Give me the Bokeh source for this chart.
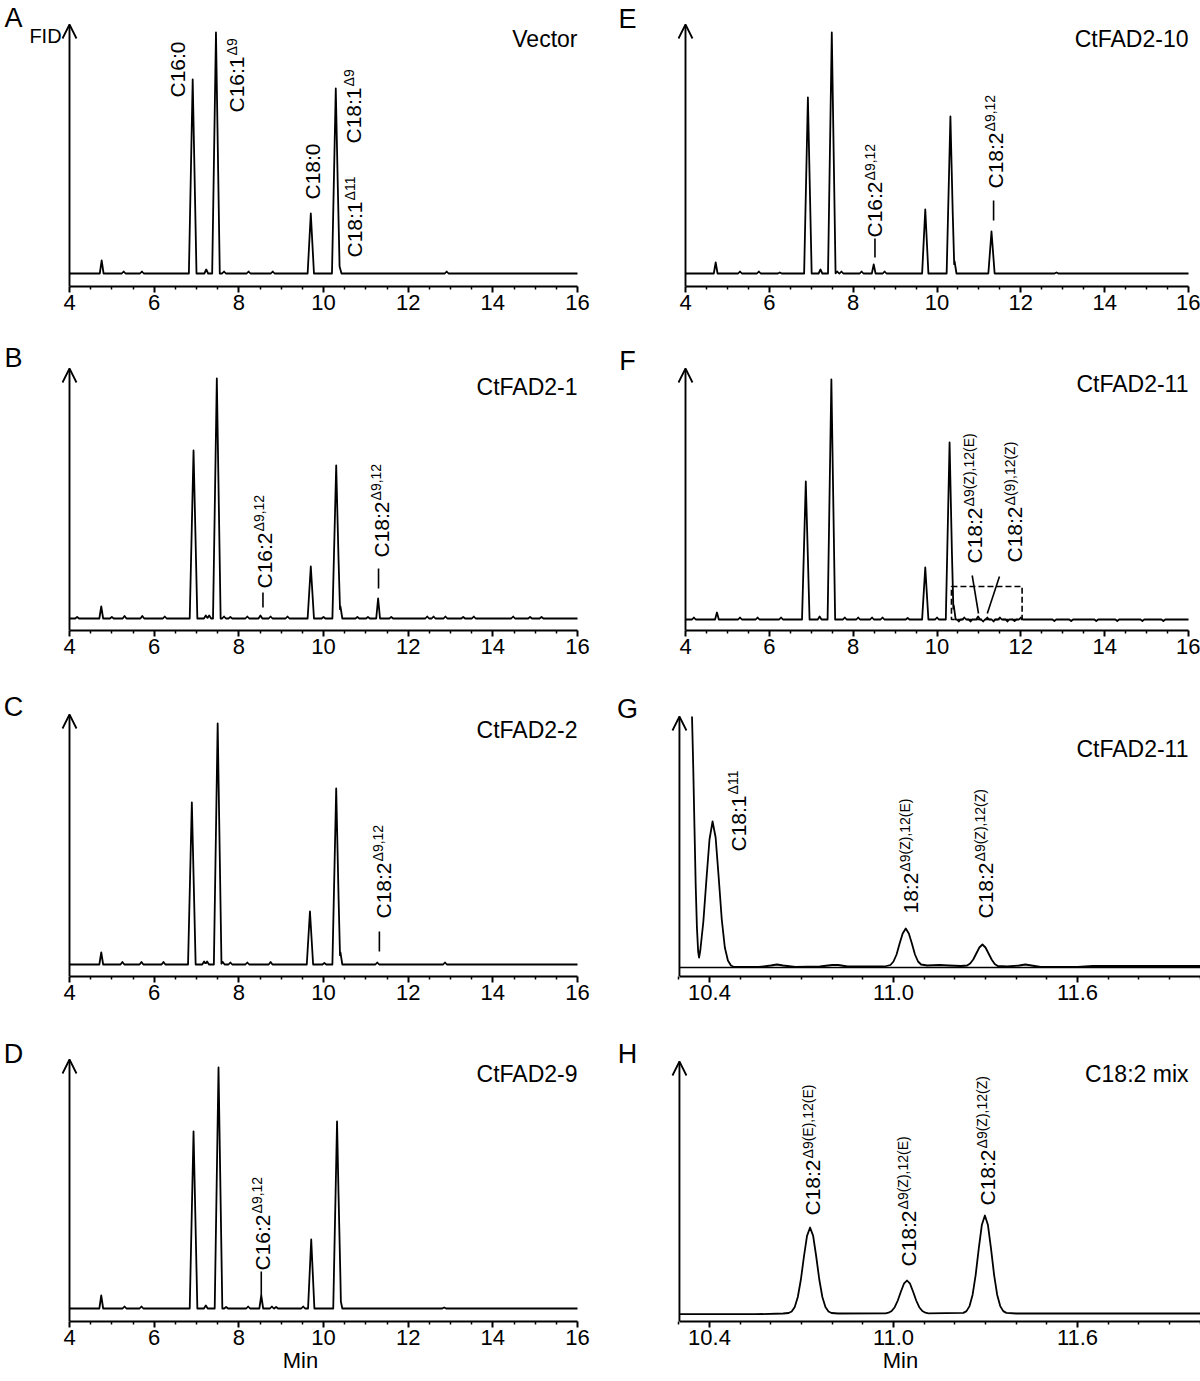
import math
from bokeh.plotting import figure
from bokeh.models import Range1d, FixedTicker, Arrow, OpenHead, PrintfTickFormatter
from bokeh.layouts import gridplot
from bokeh.embed import file_html
from bokeh.resources import INLINE
from bokeh.core.properties import value

FONT = "Liberation Sans"

# ---------------- data ----------------
X_TICKS = [4, 6, 8, 10, 12, 14, 16]
X_MINOR = [4.5, 5, 5.5, 6.5, 7, 7.5, 8.5, 9, 9.5, 10.5, 11, 11.5, 12.5, 13, 13.5, 14.5, 15, 15.5]
Z_TICKS = [10.4, 11.0, 11.6]
Z_MINOR = [10.3, 10.5, 10.6, 10.7, 10.8, 10.9, 11.1, 11.2, 11.3, 11.4, 11.5, 11.7, 11.8, 11.9, 12.0]

TITLES = {"A": "Vector", "B": "CtFAD2-1", "C": "CtFAD2-2", "D": "CtFAD2-9",
          "E": "CtFAD2-10", "F": "CtFAD2-11", "G": "CtFAD2-11", "H": "C18:2 mix"}

# peak retention times (min) and heights (FID response, arbitrary units)
A_RT = [4.76, 5.28, 5.71, 6.91, 7.23, 7.46, 7.65, 8.23, 8.80, 9.70, 10.29, 10.38, 12.91]
A_H = [13, 2, 2, 194, 4, 241, 2, 2, 2, 60, 185, 7, 2]

B_RT = [4.18, 4.75, 5.00, 5.30, 5.72, 6.25, 6.93, 7.22, 7.30, 7.48, 7.65, 7.80, 8.20, 8.51, 8.75,
        9.15, 9.70, 10.00, 10.30, 10.40, 10.80, 11.05, 11.29, 11.60, 12.45, 12.60, 12.88, 13.30,
        13.55, 14.48, 14.88, 15.15]
B_H = [1.5, 12, 1.5, 2.5, 2.5, 2, 168, 3, 3, 240, 2, 1.5, 2, 3, 2,
       2, 52, 1.5, 153, 12, 1.5, 1.5, 20, 1.5, 2, 2, 2, 1.5,
       2, 2, 1.5, 1.5]

C_RT = [4.75, 5.25, 5.70, 6.22, 6.89, 7.18, 7.25, 7.50, 7.62, 7.80, 8.20, 8.75, 9.68, 10.02,
        10.30, 10.40, 11.27, 12.87]
C_H = [12, 2.5, 2.5, 2.5, 162, 3, 3, 241, 2.5, 2, 2, 2.5, 53, 1.5, 176, 12, 2, 2]

D_RT = [4.75, 5.30, 5.70, 6.93, 7.22, 7.52, 7.70, 8.22, 8.53, 8.78, 8.88, 9.52, 9.71, 10.32,
        10.40, 12.85]
D_H = [13, 2, 2, 177, 3, 241, 1.5, 2, 13, 2, 1.5, 2, 69, 187, 9, 1]

E_RT = [4.72, 5.30, 5.75, 6.25, 6.92, 7.22, 7.49, 7.62, 7.72, 8.20, 8.49, 8.75, 9.72, 10.32,
        10.42, 11.30, 12.85]
E_H = [11, 2, 2, 1, 176, 4, 241, 2, 2, 2, 9, 2, 64, 157, 12, 42, 1]

F_RT = [4.20, 4.75, 5.30, 5.72, 6.28, 6.87, 7.20, 7.48, 7.80, 8.12, 8.45, 8.70, 9.30, 9.72,
        10.00, 10.30, 10.40, 10.52, 10.65, 10.80, 10.98, 11.10, 11.20, 11.35, 11.50, 11.68,
        11.85, 12.00, 12.80, 13.20, 13.80, 14.30, 14.90, 15.40]
F_H = [2, 7, 2, 2, 2, 138, 3, 240, 2, 2, 2, 2, 1.5, 52,
       2, 177, 14, -2, 2, -2, 3, -2, 2, -2, 2, -2,
       -1.5, 2, -1.5, -1.5, -1.5, -1.5, -1.5, -1.5]

# zoomed traces (G, H): points
G_T = [10.343, 10.347, 10.351, 10.355, 10.359, 10.363, 10.366, 10.370, 10.380, 10.390,
       10.400, 10.410, 10.420, 10.430, 10.440, 10.450, 10.460, 10.470, 10.480, 10.560,
       10.600, 10.620, 10.640, 10.680, 10.760, 10.800, 10.820, 10.850, 10.970, 10.990,
       11.000, 11.010, 11.020, 11.030, 11.040, 11.050, 11.060, 11.070, 11.080, 11.090,
       11.110, 11.150, 11.180, 11.220, 11.240, 11.250, 11.260, 11.270, 11.280, 11.290,
       11.300, 11.310, 11.320, 11.330, 11.340, 11.370, 11.410, 11.430, 11.450, 11.480,
       11.600, 11.650, 11.800, 12.000]
G_Y = [251, 200, 140, 82, 40, 16, 10, 17, 46, 88,
       128, 146, 130, 90, 48, 20, 7, 2, 0.5, 0.5,
       2, 3, 2, 0.5, 1, 2.5, 2.5, 1, 1, 2.5,
       6, 13, 24, 34, 39, 34, 24, 13, 6, 3,
       2, 2.5, 2, 1.5, 2, 4, 8, 14, 20, 23,
       20, 14, 8, 3.5, 1.5, 1, 2, 3, 2, 0.5,
       0.5, 1.5, 1.5, 1.5]

H_T = [10.302, 10.550, 10.640, 10.658, 10.668, 10.678, 10.688, 10.698, 10.708, 10.718,
       10.728, 10.738, 10.748, 10.758, 10.768, 10.778, 10.788, 10.798, 10.820, 10.974,
       10.984, 10.994, 11.004, 11.014, 11.024, 11.034, 11.044, 11.054, 11.064, 11.074,
       11.084, 11.094, 11.104, 11.114, 11.228, 11.238, 11.248, 11.258, 11.268, 11.278,
       11.288, 11.298, 11.308, 11.318, 11.328, 11.338, 11.348, 11.358, 11.368, 11.400,
       12.000]
H_Y = [-0.7, -0.7, 0, 0.5, 2, 6.5, 16.5, 34, 57, 77.6,
       86, 77.6, 57, 34, 16.5, 6.5, 2, 0.5, 0, 0.2,
       0.8, 2.5, 6.3, 13, 21.8, 29.8, 33, 29.8, 21.8, 13,
       6.3, 2.5, 0.8, 0.2, 0.6, 2.4, 7.4, 18.8, 38.7, 64.9,
       88.4, 98, 88.4, 64.9, 38.7, 18.8, 7.4, 2.4, 0.6, 0,
       0]

# peak labels: (time, y of label start, main text, superscript)
A_LABELS = [(6.54, 176, "C16:0", ""), (7.95, 161, "C16:1", "Δ9"), (9.73, 74, "C18:0", ""),
            (10.72, 130, "C18:1", "Δ9"), (10.74, 16, "C18:1", "Δ11")]
B_LABELS = [(8.60, 30, "C16:2", "Δ9,12"), (11.37, 61, "C18:2", "Δ9,12")]
C_LABELS = [(11.41, 46, "C18:2", "Δ9,12")]
D_LABELS = [(8.55, 38, "C16:2", "Δ9,12")]
E_LABELS = [(8.52, 36, "C16:2", "Δ9,12"), (11.39, 85, "C18:2", "Δ9,12")]
F_LABELS = [(10.89, 56, "C18:2", "Δ9(Z),12(E)"), (11.85, 57, "C18:2", "Δ(9),12(Z)")]
G_LABELS = [(10.493, 116, "C18:1", "Δ11"), (11.054, 54, "18:2", "Δ9(Z),12(E)"),
            (11.299, 49, "C18:2", "Δ9(Z),12(Z)")]
H_LABELS = [(10.737, 98, "C18:2", "Δ9(E),12(E)"), (11.048, 47, "C18:2", "Δ9(Z),12(E)"),
            (11.305, 108, "C18:2", "Δ9(Z),12(Z)")]

# leader lines: (t0, y0, t1, y1)
B_LEADERS = [(8.57, 11, 8.57, 26), (11.30, 30, 11.30, 50)]
C_LEADERS = [(11.32, 13, 11.32, 33)]
D_LEADERS = [(8.53, 13, 8.53, 37)]
E_LEADERS = [(8.52, 16, 8.52, 35), (11.35, 53, 11.35, 73)]
F_LEADERS = [(10.99, 6, 10.84, 44), (11.20, 6, 11.49, 43)]
F_BOX = (10.345, 12.03, 0, 33)  # zoom region shown in G

# ---------------- layout ----------------
W = 600
FRAME_H = [286, 304, 306, 309]
BORDER_B = [40, 40, 36, 59]
ADV = {"C": 0.722, ":": 0.278, ".": 0.278}
LABEL_PX = 21
SUP_PX = 14


def text_len(s, size):
    return sum(ADV.get(ch, 0.556) for ch in s) * size


def local_px(col, ref_x):
    return ref_x - (0 if col == 0 else 600)


def x_range_for(col, ref_a, t_a, ref_b, t_b):
    la, lb = local_px(col, ref_a), local_px(col, ref_b)
    dpp = (t_b - t_a) / (lb - la)
    return t_a - la * dpp, t_a + (W - la) * dpp


def tri_trace(rt, h, t0=4.0, t1=16.0):
    hw = [0.09 if v >= 100 else (0.075 if v >= 40 else 0.045) for v in h]
    knots = {t0, t1}
    for r, w in zip(rt, hw):
        knots.update((r - w, r, r + w))
    ts = sorted(k for k in knots if t0 <= k <= t1)
    ys = [sum(v * max(0.0, 1.0 - abs(t - r) / w) for r, v, w in zip(rt, h, hw)) for t in ts]
    return ts, ys


def txt(p, x, y, s, size, align="left", baseline="middle", angle=0.0, xo=0, yo=0):
    p.text(x=[x], y=[y], text=[s], angle=angle, x_offset=xo, y_offset=yo,
           text_font=value(FONT), text_font_size=size, text_align=align,
           text_baseline=baseline, text_color="black")


SPECS = [
    dict(name="A", col=0, row=0, off=13, rt=A_RT, h=A_H, labels=A_LABELS, leaders=[],
         title_above=248, letter_above=269, fid=True),
    dict(name="B", col=0, row=1, off=12, rt=B_RT, h=B_H, labels=B_LABELS, leaders=B_LEADERS,
         title_above=244, letter_above=273),
    dict(name="C", col=0, row=2, off=12, rt=C_RT, h=C_H, labels=C_LABELS, leaders=C_LEADERS,
         title_above=247, letter_above=270),
    dict(name="D", col=0, row=3, off=13, rt=D_RT, h=D_H, labels=D_LABELS, leaders=D_LEADERS,
         title_above=248, letter_above=268, xlabel=True),
    dict(name="E", col=1, row=0, off=13, rt=E_RT, h=E_H, labels=E_LABELS, leaders=E_LEADERS,
         title_above=248, letter_above=268),
    dict(name="F", col=1, row=1, off=11, rt=F_RT, h=F_H, labels=F_LABELS, leaders=F_LEADERS,
         title_above=247, letter_above=270, box=F_BOX),
    dict(name="G", col=1, row=2, off=9, tt=G_T, ty=G_Y, labels=G_LABELS, leaders=[],
         title_above=228, letter_above=268, zoom=True, base=True),
    dict(name="H", col=1, row=3, off=8, tt=H_T, ty=H_Y, labels=H_LABELS, leaders=[],
         title_above=248, letter_above=268, zoom=True, xlabel=True),
]


def build(s):
    col, row, off = s["col"], s["row"], s["off"]
    fh, bb = FRAME_H[row], BORDER_B[row]
    zoom = s.get("zoom", False)
    if zoom:
        xs, xe = x_range_for(col, 709, 10.4, 893, 11.0)
        yx, bounds, tip = 10.302, (10.302, 12.0), 260
    elif col == 0:
        xs, xe = x_range_for(0, 69, 4, 577, 16)
        yx, bounds, tip = 4, (4, 16), 262
    else:
        xs, xe = x_range_for(1, 685, 4, 1188, 16)
        yx, bounds, tip = 4, (4, 16), 262

    def px2data(ref_x):
        return xs + local_px(col, ref_x) * (xe - xs) / W

    p = figure(width=W, height=fh + bb, x_range=Range1d(xs, xe), y_range=Range1d(-off, fh - off),
               output_backend="svg", toolbar_location=None, tools="", y_axis_location=None,
               min_border_left=0, min_border_right=0, min_border_top=0, min_border_bottom=bb)
    p.outline_line_color = None
    p.grid.visible = False
    p.background_fill_color = "white"
    p.border_fill_color = "white"

    ax = p.xaxis[0]
    ax.ticker = FixedTicker(ticks=Z_TICKS if zoom else X_TICKS, minor_ticks=Z_MINOR if zoom else X_MINOR)
    ax.formatter = PrintfTickFormatter(format="%.1f" if zoom else "%d")
    ax.bounds = bounds
    ax.axis_line_width = 2
    ax.axis_line_color = "black"
    ax.major_tick_line_width = 2
    ax.major_tick_line_color = "black"
    ax.major_tick_out = 6
    ax.major_tick_in = 0
    ax.minor_tick_line_width = 1.5
    ax.minor_tick_line_color = "black"
    ax.minor_tick_out = 3
    ax.minor_tick_in = 0
    ax.major_label_text_font = FONT
    ax.major_label_text_font_size = "22px"
    ax.major_label_text_color = "black"
    ax.major_label_standoff = 2
    if s.get("xlabel"):
        ax.axis_label = "Min"
        ax.axis_label_text_font = FONT
        ax.axis_label_text_font_size = "22px"
        ax.axis_label_text_font_style = "normal"
        ax.axis_label_text_color = "black"
        ax.axis_label_standoff = 0

    # y axis arrow
    p.add_layout(Arrow(end=OpenHead(size=14, line_width=1.8, line_color="black"),
                       x_start=yx, y_start=-off, x_end=yx, y_end=tip - off,
                       line_width=1.9, line_color="black"))

    # trace
    if zoom:
        ts, ys = s["tt"], s["ty"]
    else:
        ts, ys = tri_trace(s["rt"], s["h"])
    if s.get("base"):
        p.line([bounds[0], bounds[1]], [0, 0], line_color="black", line_width=1.4)
    p.line(ts, ys, line_color="black", line_width=1.8, line_join="round")

    if "box" in s:
        l, r, b, t = s["box"]
        p.quad(left=[l], right=[r], bottom=[b], top=[t], fill_color=None,
               line_color="black", line_width=1.6, line_dash="6 3")

    for (t0, y0, t1, y1) in s["leaders"]:
        p.segment(x0=[t0], y0=[y0], x1=[t1], y1=[y1], line_color="black", line_width=1.6)

    for (t, y, main, sup) in s["labels"]:
        txt(p, t, y, main, f"{LABEL_PX}px", "left", "middle", math.pi / 2)
        if sup:
            txt(p, t, y, sup, f"{SUP_PX}px", "left", "middle", math.pi / 2,
                xo=-5, yo=-(text_len(main, LABEL_PX) + 1))

    # title, panel letter
    title_ref = 577 if col == 0 else 1188
    txt(p, px2data(title_ref), s["title_above"] - off, TITLES[s["name"]], "23px", "right", "middle")
    letter_ref = 13 if col == 0 else 627
    txt(p, px2data(letter_ref), s["letter_above"] - off, s["name"], "27px", "center", "middle")
    if s.get("fid"):
        txt(p, px2data(45), 251 - off, "FID", "20px", "center", "middle")
    return p


figs = {s["name"]: build(s) for s in SPECS}
grid = gridplot([[figs["A"], figs["E"]], [figs["B"], figs["F"]],
                 [figs["C"], figs["G"]], [figs["D"], figs["H"]]], toolbar_location=None)

open("out.html", "w").write(file_html(grid, INLINE))
